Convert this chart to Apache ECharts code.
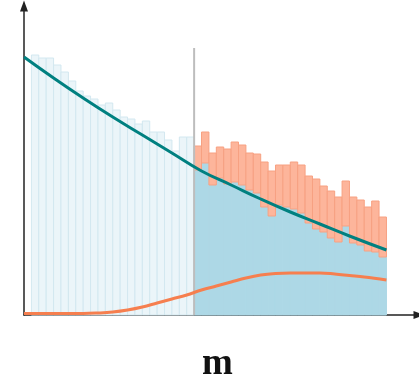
<!DOCTYPE html>
<html>
<head>
    <meta charset="utf-8" />
    <title>m histogram</title>
    <script src="https://cdn.jsdelivr.net/npm/echarts@6/dist/echarts.min.js"></script>
    <style type="text/css">
        html, body { margin: 0; padding: 0; background: #fff; }
        #chart { width: 419px; height: 379px; }
    </style>
</head>
<body>
    <div id="chart"></div>
    <script type="text/javascript">
        // bins are 1 unit wide, first bin starts at 1, cut between left/right at 23
        var firstBin = 1;
        var cutAt = 23;
        var leftHeights = [260, 257, 257, 250, 243, 234, 224, 219, 216, 210, 212, 205, 198, 196, 191, 194, 183, 183, 175, 164, 178, 178];
        var rightTotals = [169, 183, 162, 168, 166, 173, 170, 162, 161, 153, 144, 150, 150, 153, 150, 139, 136, 129, 124, 118, 134, 118, 115, 108, 114, 98];
        var rightBlue = [145, 152, 130, 137, 131, 133, 130, 125, 122, 108, 99, 110, 108, 106, 102, 92, 86, 83, 77, 73, 89, 72, 70, 64, 63, 58];
        var tealX = [0, 4, 8, 12, 16, 20, 24, 28, 32, 36, 40, 44, 49];
        var tealY = [258, 237, 217, 198, 180, 162, 144, 130, 116, 103, 91, 79, 65];
        var orangeX = [0, 4, 8, 10, 12, 14, 16, 18, 20, 22, 24, 26, 28, 30, 32, 34, 36, 38, 40, 42, 44, 46, 49];
        var orangeY = [1.5, 1.5, 1.5, 2, 3, 5, 8, 12, 16, 20, 25, 29, 33, 37, 40, 41.5, 42, 42, 42, 41, 39.5, 38, 35];
        var cutLineTop = 267;

        var zip = function (xs, ys) {
            return xs.map(function (x, i) { return [x, ys[i]]; });
        };

        var leftData = leftHeights.map(function (h, i) { return [firstBin + i, 0, h]; });
        var blueData = rightBlue.map(function (h, i) { return [cutAt + i, 0, h]; });
        var salmonData = rightTotals.map(function (h, i) { return [cutAt + i, rightBlue[i], h]; });

        var barRenderer = function (fill, stroke, lw) {
            return function (params, api) {
                var x0 = api.value(0), lo = api.value(1), hi = api.value(2);
                var p0 = api.coord([x0, hi]);
                var p1 = api.coord([x0 + 1, lo]);
                return {
                    type: 'rect',
                    shape: { x: p0[0], y: p0[1], width: p1[0] - p0[0], height: p1[1] - p0[1] },
                    style: { fill: fill, stroke: stroke, lineWidth: lw }
                };
            };
        };

        var axisLine = {
            show: true, onZero: false,
            symbol: ['none', 'triangle'], symbolSize: [8, 11],
            lineStyle: { color: '#222', width: 1.5 }
        };

        var option = {
            animation: false,
            grid: { left: 24, top: 6, right: 0, bottom: 64, containLabel: false },
            xAxis: {
                type: 'value', min: 0, max: 53.4, axisLine: axisLine,
                axisTick: { show: false }, axisLabel: { show: false }, splitLine: { show: false }
            },
            yAxis: {
                type: 'value', min: 0, max: 309, axisLine: axisLine,
                axisTick: { show: false }, axisLabel: { show: false }, splitLine: { show: false }
            },
            graphic: [{
                type: 'text', left: 202, top: 346,
                style: { text: 'm', font: 'bold 37px "Liberation Serif", serif', fill: '#111' }
            }],
            series: [
                { type: 'custom', renderItem: barRenderer('#ebf5f9', '#d3e8f0', 1), data: leftData, encode: { x: 0, y: [1, 2] }, z: 1 },
                { type: 'custom', renderItem: barRenderer('#add8e6', '#add8e6', 1), data: blueData, encode: { x: 0, y: [1, 2] }, z: 1 },
                { type: 'custom', renderItem: barRenderer('#fdb59b', '#f7a182', 1), data: salmonData, encode: { x: 0, y: [1, 2] }, z: 1 },
                {
                    type: 'line', data: [[cutAt, 0], [cutAt, cutLineTop]], showSymbol: false, z: 2,
                    lineStyle: { color: '#bdbdbd', width: 2 }
                },
                {
                    type: 'line', data: zip(tealX, tealY), smooth: true, showSymbol: false, z: 3,
                    lineStyle: { color: '#008080', width: 3 }
                },
                {
                    type: 'line', data: zip(orangeX, orangeY), smooth: 0.4, showSymbol: false, z: 3,
                    lineStyle: { color: '#f67f4f', width: 3 }
                }
            ]
        };

        var myChart = echarts.init(document.getElementById('chart'), null, { renderer: 'canvas' });
        myChart.setOption(option);
    </script>
</body>
</html>
